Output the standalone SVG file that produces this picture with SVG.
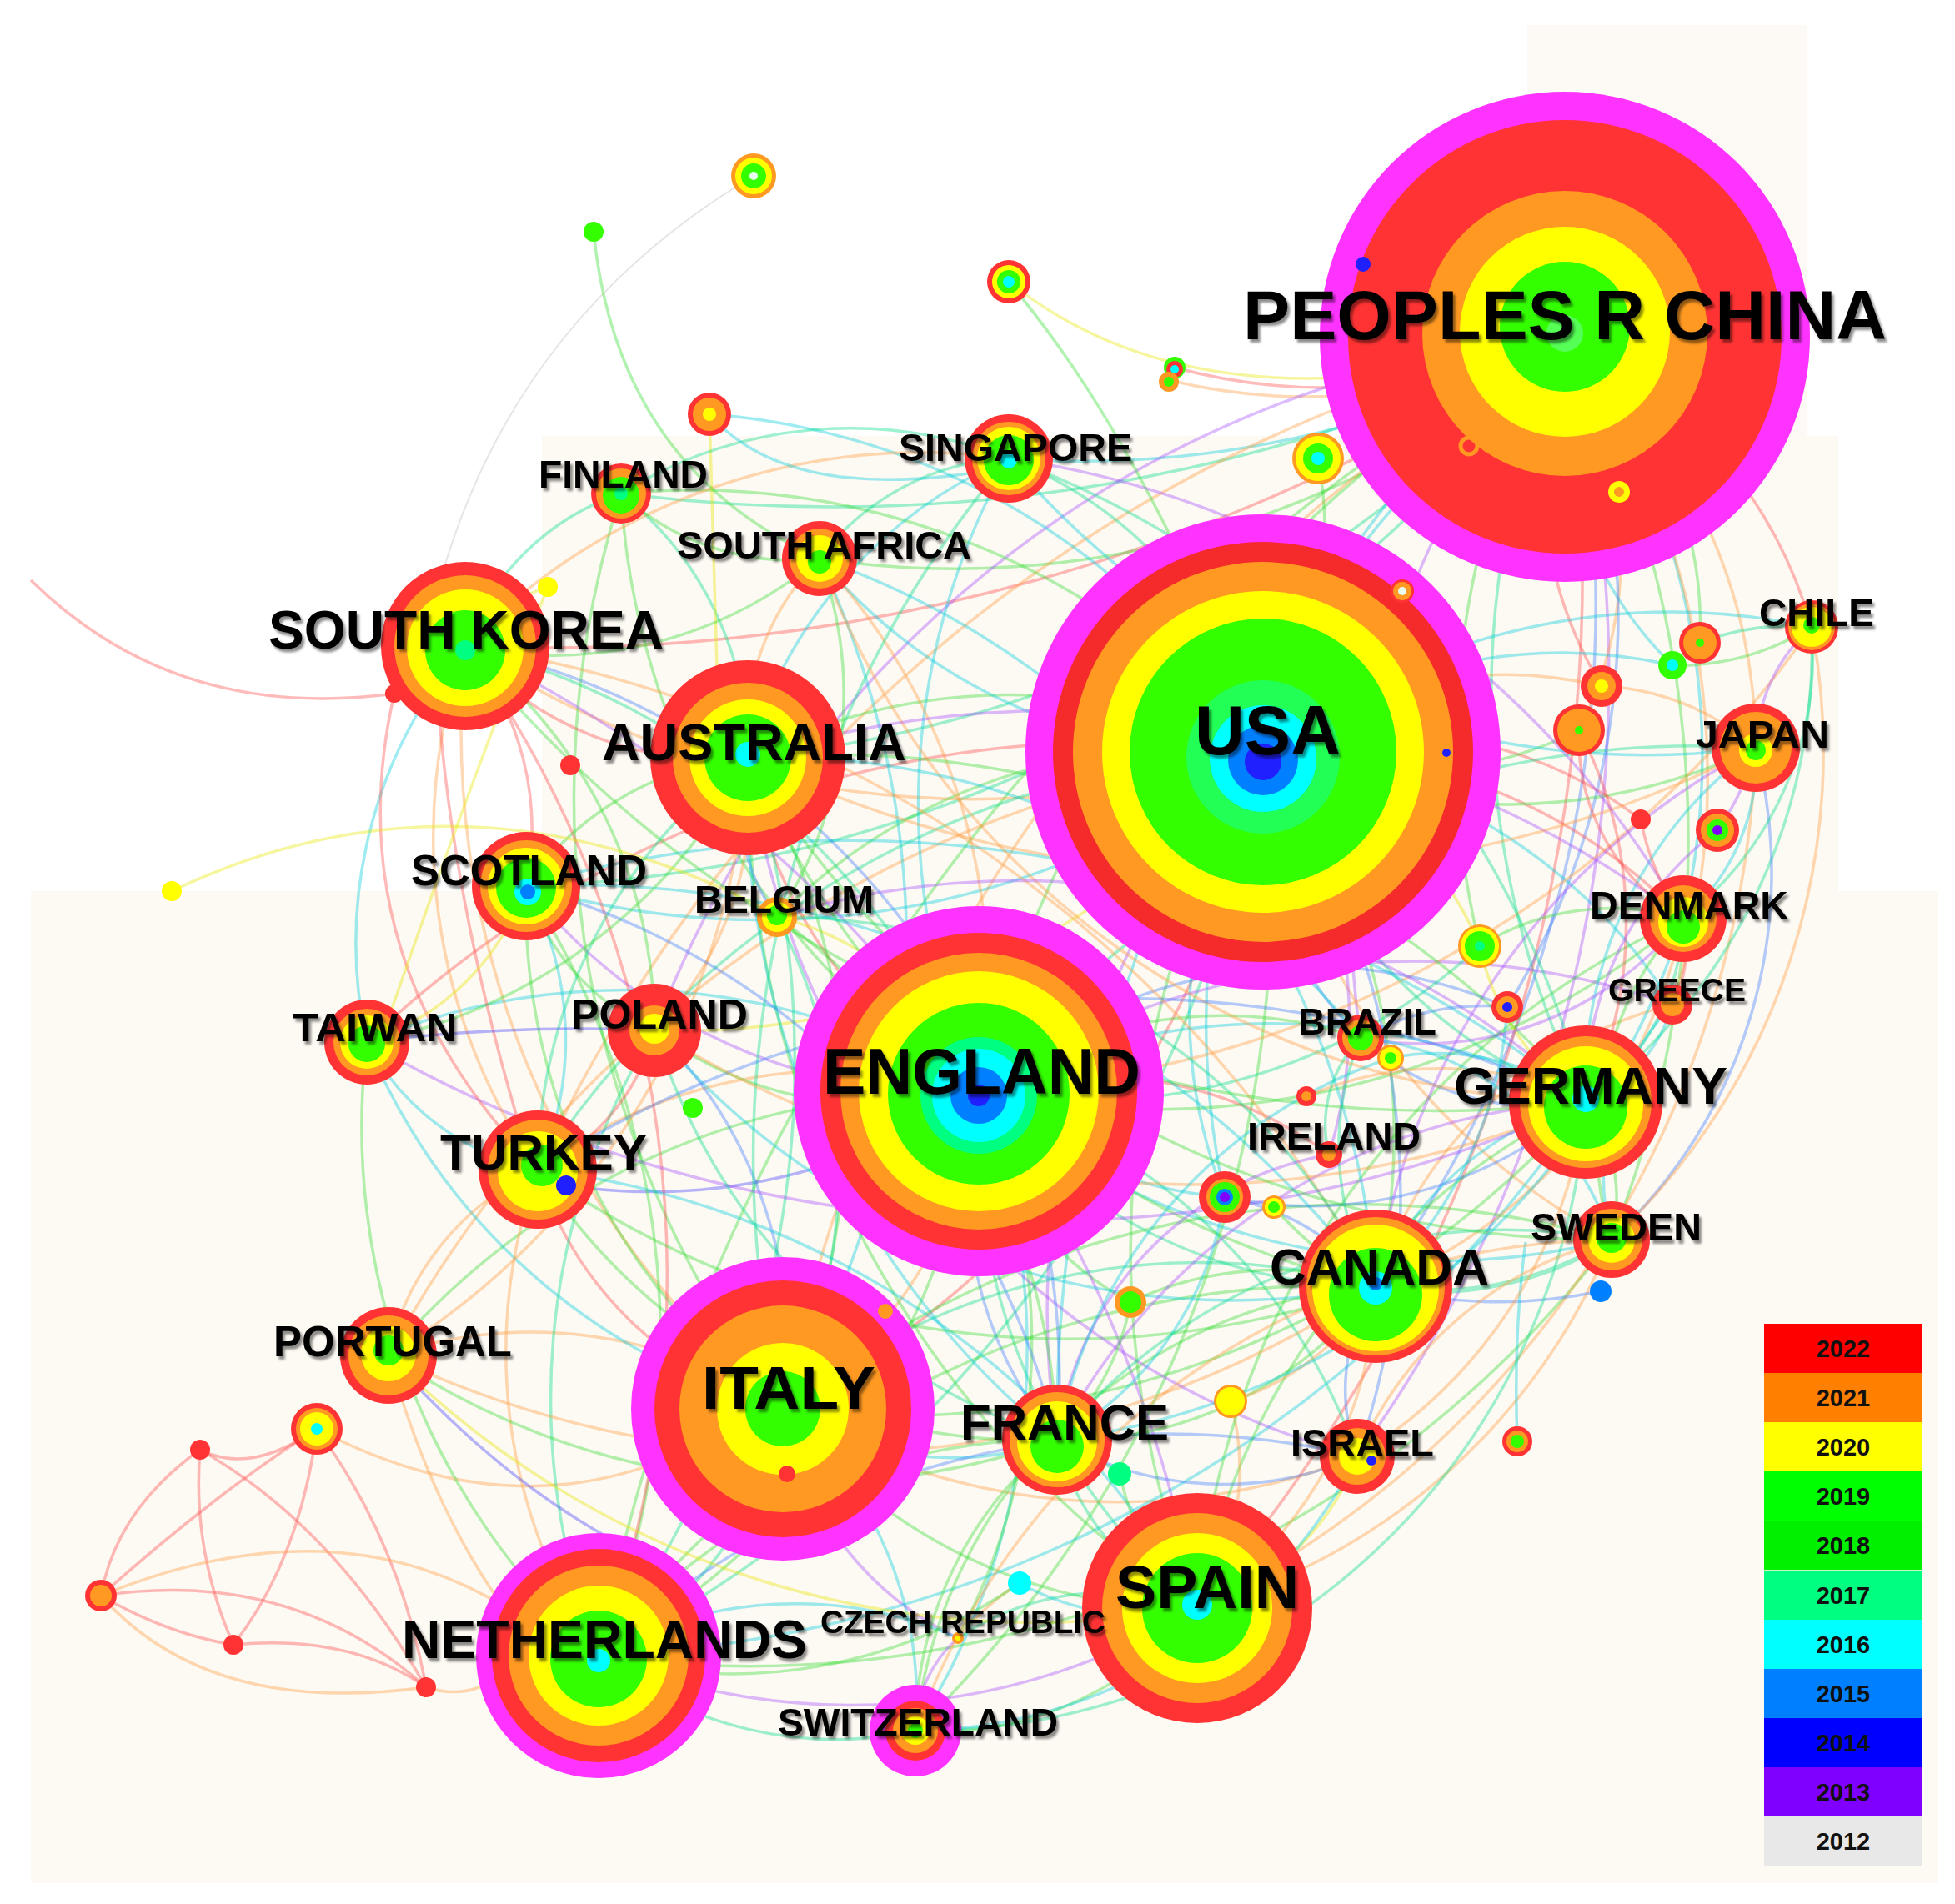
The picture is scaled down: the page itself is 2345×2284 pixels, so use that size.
<svg xmlns="http://www.w3.org/2000/svg" width="2345" height="2284" viewBox="0 0 2345 2284">
<style>
.e{fill:none;stroke-width:3.5;stroke-opacity:.38}
.r{stroke:#ff4a4a}.o{stroke:#ff9b3d}.y{stroke:#e8e800}.g{stroke:#33dd33}.s{stroke:#00dd88}.c{stroke:#00ccdd}.a{stroke:#3a7cff}.b{stroke:#4040ff}.v{stroke:#a64dff}.k{stroke:#bbbbbb}
.MG{fill:#ff33ff}.RD{fill:#ff3333}.OR{fill:#ff9922}.YL{fill:#ffff00}.GN{fill:#33ff00}.SG{fill:#00ff80}.CY{fill:#00ffff}.AZ{fill:#0080ff}.BL{fill:#2020ff}.VI{fill:#8000ff}.WH{fill:#e8fff0}
.lb{font-family:"Liberation Sans",Arial,Helvetica,sans-serif;font-weight:bold;fill:#000}
.lg{font-family:"Liberation Sans",Arial,Helvetica,sans-serif;font-weight:bold;font-size:29px;fill:#111;text-anchor:middle}
</style>
<defs>
<filter id="ds" x="-5%" y="-30%" width="115%" height="170%">
<feGaussianBlur in="SourceAlpha" stdDeviation="1.6"/>
<feOffset dx="3" dy="4" result="o"/>
<feComponentTransfer><feFuncA type="linear" slope="0.45"/></feComponentTransfer>
<feMerge><feMergeNode/><feMergeNode in="SourceGraphic"/></feMerge>
</filter>
</defs>
<rect x="0" y="0" width="2345" height="2284" fill="#ffffff"/>
<rect x="37" y="1069" width="2288" height="1190" fill="#fdf9f3"/>
<rect x="650" y="523" width="1555" height="546" fill="#fdf9f3"/>
<rect x="1832" y="30" width="336" height="493" fill="#fdfaf5"/>

<g id="connectors">
<!-- China -->
<path class="e g" d="M1877 404A1400 1400 0 0 0 1174 1309"/>
<path class="e s" d="M1877 404A1500 1500 0 0 1 897 909"/>
<path class="e r" d="M1877 404A2200 2200 0 0 1 558 775"/>
<path class="e c" d="M1877 404A1200 1200 0 0 1 1210 550"/>
<path class="e g" d="M1877 404A1100 1100 0 0 1 983 670"/>
<path class="e s" d="M1877 404A2000 2000 0 0 1 745 592"/>
<path class="e c" d="M1877 404A850 850 0 0 1 2019 1102"/>
<path class="e o" d="M1877 404A650 650 0 0 1 2106 897"/>
<path class="e r" d="M1877 404A550 550 0 0 1 2173 752"/>
<path class="e s" d="M1877 404A1100 1100 0 0 0 1902 1322"/>
<path class="e a" d="M1877 404A1400 1400 0 0 1 1650 1543"/>
<path class="e v" d="M1877 404A1050 1050 0 0 0 1632 1245"/>
<path class="e g" d="M1877 404A1300 1300 0 0 1 1933 1487"/>
<path class="e o" d="M1877 404A1900 1900 0 0 0 939 1690"/>
<path class="e r" d="M1877 404A1900 1900 0 0 1 1436 1929"/>
<path class="e g" d="M1877 404A2300 2300 0 0 0 718 1986"/>
<path class="e c" d="M1877 404A1700 1700 0 0 0 1268 1727"/>
<path class="e s" d="M1877 404A1600 1600 0 0 1 631 1063"/>
<path class="e o" d="M1877 404A1800 1800 0 0 0 645 1403"/>
<path class="e v" d="M1877 404A1600 1600 0 0 1 1628 1747"/>
<path class="e o" d="M1877 404A900 900 0 0 1 2006 1205"/>
<path class="e r" d="M1877 404A500 500 0 0 0 1921 823"/>
<path class="e o" d="M1877 404A500 500 0 0 1 1894 876"/>
<path class="e g" d="M1877 404A450 450 0 0 1 2039 771"/>
<path class="e c" d="M1877 404A450 450 0 0 0 2006 798"/>
<path class="e y" d="M1210 338Q1450 530 1877 404"/>
<path class="e r" d="M1877 404A700 700 0 0 1 1409 441"/>
<path class="e o" d="M1877 404A700 700 0 0 1 1402 456"/>
<path class="e g" d="M1877 404A1000 1000 0 0 0 1775 1135"/>
<path class="e a" d="M1877 404A900 900 0 0 1 1808 1208"/>
<path class="e c" d="M1877 404A1000 1000 0 0 0 1469 1436"/>
<path class="e v" d="M1877 404A1300 1300 0 0 0 785 1236"/>
<!-- USA -->
<path class="e g" d="M1515 902A700 700 0 0 0 897 909"/>
<path class="e o" d="M1515 902A1100 1100 0 0 1 558 775"/>
<path class="e s" d="M1515 902A500 500 0 0 0 1210 550"/>
<path class="e c" d="M1515 902A650 650 0 0 1 983 670"/>
<path class="e g" d="M1515 902A900 900 0 0 0 745 592"/>
<path class="e r" d="M1515 902A650 650 0 0 1 2019 1102"/>
<path class="e g" d="M1515 902A700 700 0 0 0 2106 897"/>
<path class="e c" d="M1515 902A800 800 0 0 1 2173 752"/>
<path class="e s" d="M1515 902A650 650 0 0 0 1902 1322"/>
<path class="e g" d="M1515 902A750 750 0 0 1 1650 1543"/>
<path class="e a" d="M1515 902A400 400 0 0 0 1632 1245"/>
<path class="e o" d="M1515 902A800 800 0 0 0 1933 1487"/>
<path class="e r" d="M1515 902A1100 1100 0 0 1 939 1690"/>
<path class="e g" d="M1515 902A1200 1200 0 0 0 1436 1929"/>
<path class="e s" d="M1515 902A1500 1500 0 0 1 718 1986"/>
<path class="e v" d="M1515 902A1000 1000 0 0 0 1268 1727"/>
<path class="e c" d="M1515 902A1000 1000 0 0 1 631 1063"/>
<path class="e s" d="M1515 902A1100 1100 0 0 0 645 1403"/>
<path class="e y" d="M1515 902A900 900 0 0 1 785 1236"/>
<path class="e r" d="M1515 902A1300 1300 0 0 0 440 1250"/>
<path class="e a" d="M1515 902A950 950 0 0 1 1628 1747"/>
<path class="e c" d="M1515 902A650 650 0 0 1 2006 1205"/>
<path class="e o" d="M1515 902A1400 1400 0 0 0 466 1626"/>
<path class="e g" d="M1515 902A1400 1400 0 0 1 1098 2076"/>
<path class="e g" d="M1515 902A700 700 0 0 0 932 1100"/>
<path class="e v" d="M1515 902A550 550 0 0 1 1594 1385"/>
<path class="e c" d="M1515 902A600 600 0 0 0 1469 1436"/>
<path class="e y" d="M1515 902A400 400 0 0 1 1775 1135"/>
<path class="e g" d="M1515 902A500 500 0 0 0 1581 550"/>
<path class="e g" d="M1210 338Q1380 540 1515 902"/>
<path class="e c" d="M1515 902A850 850 0 0 0 851 497"/>
<path class="e r" d="M1515 902A500 500 0 0 1 1968 983"/>
<path class="e g" d="M1515 902A500 500 0 0 0 1894 876"/>
<path class="e c" d="M1515 902A600 600 0 0 1 2006 798"/>
<path class="e o" d="M1515 902A500 500 0 0 1 1921 823"/>
<!-- England -->
<path class="e r" d="M1174 1309A550 550 0 0 1 897 909"/>
<path class="e s" d="M1174 1309A900 900 0 0 0 558 775"/>
<path class="e c" d="M1174 1309A850 850 0 0 1 1210 550"/>
<path class="e o" d="M1174 1309A750 750 0 0 0 983 670"/>
<path class="e g" d="M1174 1309A900 900 0 0 1 745 592"/>
<path class="e g" d="M1174 1309A1000 1000 0 0 0 2019 1102"/>
<path class="e s" d="M1174 1309A1100 1100 0 0 1 2106 897"/>
<path class="e c" d="M1174 1309A800 800 0 0 1 1902 1322"/>
<path class="e s" d="M1174 1309A600 600 0 0 0 1650 1543"/>
<path class="e g" d="M1174 1309A520 520 0 0 1 1632 1245"/>
<path class="e c" d="M1174 1309A850 850 0 0 0 1933 1487"/>
<path class="e o" d="M1174 1309A500 500 0 0 1 939 1690"/>
<path class="e s" d="M1174 1309A750 750 0 0 0 1436 1929"/>
<path class="e g" d="M1174 1309A900 900 0 0 1 718 1986"/>
<path class="e a" d="M1174 1309A480 480 0 0 0 1268 1727"/>
<path class="e v" d="M1174 1309A650 650 0 0 1 631 1063"/>
<path class="e o" d="M1174 1309A600 600 0 0 0 645 1403"/>
<path class="e g" d="M1174 1309A450 450 0 0 1 785 1236"/>
<path class="e c" d="M1174 1309A800 800 0 0 0 440 1250"/>
<path class="e s" d="M1174 1309A700 700 0 0 1 1628 1747"/>
<path class="e g" d="M1174 1309A900 900 0 0 0 466 1626"/>
<path class="e c" d="M1174 1309A850 850 0 0 1 1098 2076"/>
<path class="e y" d="M1174 1309A350 350 0 0 0 932 1100"/>
<path class="e r" d="M1174 1309A480 480 0 0 1 1594 1385"/>
<path class="e v" d="M1174 1309A950 950 0 0 1 2006 1205"/>
<path class="e g" d="M1174 1309A750 750 0 0 1 1149 1965"/>
<path class="e o" d="M1174 1309A1300 1300 0 0 0 2173 752"/>
<path class="e g" d="M1174 1309A350 350 0 0 0 1356 1562"/>
<path class="e b" d="M1174 1309A700 700 0 0 1 679 1422"/>
<path class="e c" d="M1174 1309A500 500 0 0 0 1469 1436"/>
<path class="e a" d="M1174 1309A600 600 0 0 1 1808 1208"/>
<path class="e s" d="M1174 1309A700 700 0 0 0 1775 1135"/>
<!-- Italy -->
<path class="e g" d="M939 1690A850 850 0 0 0 897 909"/>
<path class="e o" d="M939 1690A1050 1050 0 0 1 558 775"/>
<path class="e g" d="M939 1690A620 620 0 0 0 1436 1929"/>
<path class="e s" d="M939 1690A420 420 0 0 1 718 1986"/>
<path class="e c" d="M939 1690A380 380 0 0 0 1268 1727"/>
<path class="e s" d="M939 1690A800 800 0 0 1 1650 1543"/>
<path class="e g" d="M939 1690A1100 1100 0 0 0 1902 1322"/>
<path class="e r" d="M939 1690A430 430 0 0 1 645 1403"/>
<path class="e o" d="M939 1690A540 540 0 0 0 466 1626"/>
<path class="e g" d="M939 1690A750 750 0 0 1 631 1063"/>
<path class="e a" d="M939 1690A530 530 0 0 0 785 1236"/>
<path class="e c" d="M939 1690A460 460 0 0 1 1098 2076"/>
<path class="e o" d="M939 1690A780 780 0 0 0 1628 1747"/>
<path class="e g" d="M939 1690A1100 1100 0 0 1 1933 1487"/>
<path class="e v" d="M939 1690A380 380 0 0 0 1149 1965"/>
<path class="e s" d="M939 1690A650 650 0 0 0 932 1100"/>
<path class="e c" d="M939 1690A750 750 0 0 1 440 1250"/>
<path class="e o" d="M380 1714Q600 1830 800 1750"/>
<path class="e g" d="M939 1690A1200 1200 0 0 1 745 592"/>
<path class="e c" d="M939 1690A1100 1100 0 0 0 983 670"/>
<path class="e s" d="M939 1690A1300 1300 0 0 1 1210 550"/>
<!-- Netherlands -->
<path class="e v" d="M718 1986A800 800 0 0 0 1436 1929"/>
<path class="e g" d="M718 1986A700 700 0 0 1 1268 1727"/>
<path class="e s" d="M718 1986A1200 1200 0 0 0 897 909"/>
<path class="e g" d="M718 1986A1100 1100 0 0 1 1650 1543"/>
<path class="e c" d="M718 1986A1500 1500 0 0 0 1902 1322"/>
<path class="e o" d="M718 1986A650 650 0 0 1 645 1403"/>
<path class="e g" d="M718 1986A1000 1000 0 0 0 631 1063"/>
<path class="e s" d="M718 1986A850 850 0 0 1 785 1236"/>
<path class="e s" d="M718 1986A450 450 0 0 0 1098 2076"/>
<path class="e c" d="M718 1986A480 480 0 0 1 1149 1965"/>
<path class="e o" d="M466 1626Q520 1820 620 1950"/>
<path class="e g" d="M718 1986A850 850 0 0 1 440 1250"/>
<path class="e r" d="M718 1986A1300 1300 0 0 0 558 775"/>
<path class="e b" d="M466 1626Q620 1800 800 1880"/>
<path class="e a" d="M718 1986A1000 1000 0 0 1 1628 1747"/>
<path class="e g" d="M718 1986A1300 1300 0 0 0 1933 1487"/>
<!-- Spain -->
<path class="e s" d="M1436 1929A300 300 0 0 1 1268 1727"/>
<path class="e o" d="M1436 1929A480 480 0 0 0 1650 1543"/>
<path class="e g" d="M1436 1929A850 850 0 0 1 1902 1322"/>
<path class="e y" d="M1436 1929A300 300 0 0 0 1628 1747"/>
<path class="e g" d="M1436 1929A400 400 0 0 1 1098 2076"/>
<path class="e s" d="M1436 1929A320 320 0 0 0 1149 1965"/>
<path class="e o" d="M1436 1929A750 750 0 0 0 1933 1487"/>
<path class="e g" d="M1436 1929A1200 1200 0 0 1 897 909"/>
<path class="e c" d="M1436 1929A1050 1050 0 0 0 645 1403"/>
<path class="e y" d="M1436 1929A1100 1100 0 0 1 466 1626"/>
<path class="e v" d="M1436 1929A1600 1600 0 0 0 558 775"/>
<path class="e g" d="M1436 1929A300 300 0 0 1 1343 1768"/>
<path class="e o" d="M1436 1929A300 300 0 0 0 1476 1681"/>
<path class="e c" d="M1436 1929A300 300 0 0 1 1223 1899"/>
<path class="e o" d="M1436 1929A1200 1200 0 0 0 2106 897"/>
<path class="e g" d="M1436 1929A1000 1000 0 0 1 2019 1102"/>
<!-- Canada -->
<path class="e c" d="M1650 1543A380 380 0 0 1 1902 1322"/>
<path class="e s" style="stroke-width:6" d="M1650 1543A400 400 0 0 0 1933 1487"/>
<path class="e g" d="M1650 1543A460 460 0 0 1 1268 1727"/>
<path class="e a" d="M1650 1543A230 230 0 0 0 1628 1747"/>
<path class="e g" d="M1650 1543A1080 1080 0 0 1 897 909"/>
<path class="e o" d="M1650 1543A1500 1500 0 0 0 558 775"/>
<path class="e v" d="M1650 1543A860 860 0 0 1 2106 897"/>
<path class="e o" d="M1650 1543A600 600 0 0 0 2019 1102"/>
<path class="e s" d="M1650 1543A340 340 0 0 1 1632 1245"/>
<path class="e a" d="M1650 1543A600 600 0 0 0 1920 1549"/>
<path class="e g" d="M1650 1543A1100 1100 0 0 1 645 1403"/>
<path class="e c" d="M1650 1543A1200 1200 0 0 0 631 1063"/>
<path class="e c" d="M1820 1729Q1815 1600 1830 1490"/>
<path class="e o" d="M1650 1543A300 300 0 0 1 1476 1681"/>
<path class="e g" d="M1650 1543A400 400 0 0 0 1356 1562"/>
<path class="e c" d="M1650 1543A900 900 0 0 1 785 1236"/>
<path class="e s" d="M1650 1543A800 800 0 0 0 932 1100"/>
<path class="e o" d="M1650 1543A1200 1200 0 0 1 466 1626"/>
<path class="e g" d="M1650 1543A600 600 0 0 0 1098 2076"/>
<path class="e o" d="M1650 1543A500 500 0 0 1 2006 1205"/>
<path class="e a" d="M1650 1543A300 300 0 0 0 1469 1436"/>
<path class="e c" d="M1650 1543A1000 1000 0 0 0 983 670"/>
<!-- Germany -->
<path class="e g" d="M1902 1322A200 200 0 0 1 1933 1487"/>
<path class="e s" d="M1902 1322A280 280 0 0 0 2019 1102"/>
<path class="e c" d="M1902 1322A500 500 0 0 1 2106 897"/>
<path class="e c" d="M1902 1322A180 180 0 0 0 2006 1205"/>
<path class="e a" d="M1902 1322A320 320 0 0 1 1632 1245"/>
<path class="e v" d="M1902 1322A750 750 0 0 0 1268 1727"/>
<path class="e o" d="M1902 1322A580 580 0 0 1 1628 1747"/>
<path class="e g" d="M1902 1322A1200 1200 0 0 0 897 909"/>
<path class="e g" d="M1902 1322A1500 1500 0 0 1 558 775"/>
<path class="e s" d="M1902 1322A680 680 0 0 0 2173 752"/>
<path class="e v" d="M1902 1322A1600 1600 0 0 1 440 1250"/>
<path class="e c" d="M1902 1322A1400 1400 0 0 0 631 1063"/>
<path class="e r" d="M1902 1322A500 500 0 0 0 1894 876"/>
<path class="e y" d="M1902 1322A300 300 0 0 1 1775 1135"/>
<path class="e s" d="M1902 1322A1100 1100 0 0 0 1210 550"/>
<path class="e o" d="M1902 1322A1000 1000 0 0 1 983 670"/>
<path class="e a" d="M1902 1322A1300 1300 0 0 0 645 1403"/>
<path class="e o" d="M1902 1322A1200 1200 0 0 1 785 1236"/>
<path class="e v" d="M1902 1322A1000 1000 0 0 0 932 1100"/>
<path class="e s" d="M1902 1322A800 800 0 0 1 1098 2076"/>
<path class="e a" d="M1902 1322A500 500 0 0 1 1469 1436"/>
<path class="e c" d="M1902 1322A300 300 0 0 0 1668 1269"/>
<path class="e v" d="M1902 1322A400 400 0 0 1 2060 996"/>
<!-- Australia -->
<path class="e r" d="M897 909A400 400 0 0 1 558 775"/>
<path class="e g" d="M897 909A360 360 0 0 0 631 1063"/>
<path class="e o" d="M897 909A400 400 0 0 1 785 1236"/>
<path class="e s" d="M897 909A620 620 0 0 0 645 1403"/>
<path class="e o" d="M897 909A300 300 0 0 1 983 670"/>
<path class="e s" d="M897 909A400 400 0 0 0 745 592"/>
<path class="e c" d="M897 909A550 550 0 0 1 1210 550"/>
<path class="e a" d="M897 909A220 220 0 0 0 932 1100"/>
<path class="e g" d="M897 909A650 650 0 0 1 440 1250"/>
<path class="e c" d="M897 909A1000 1000 0 0 0 1268 1727"/>
<path class="e v" d="M897 909A1250 1250 0 0 1 2019 1102"/>
<path class="e o" d="M897 909A1350 1350 0 0 0 2106 897"/>
<path class="e o" d="M897 909A900 900 0 0 1 466 1626"/>
<path class="e y" d="M851 497Q855 650 860 800"/>
<path class="e g" d="M897 909A1200 1200 0 0 0 1933 1487"/>
<path class="e c" d="M897 909A900 900 0 0 1 1632 1245"/>
<path class="e v" d="M897 909A1000 1000 0 0 0 1628 1747"/>
<!-- South Korea -->
<path class="e r" d="M558 775A340 340 0 0 1 631 1063"/>
<path class="e c" d="M558 775A550 550 0 0 0 440 1250"/>
<path class="e s" d="M558 775A300 300 0 0 1 745 592"/>
<path class="e g" d="M558 775A500 500 0 0 0 983 670"/>
<path class="e o" d="M558 775A760 760 0 0 1 1210 550"/>
<path class="e o" d="M558 775A700 700 0 0 0 645 1403"/>
<path class="e g" d="M558 775A580 580 0 0 1 785 1236"/>
<path class="e y" d="M558 775A200 200 0 0 1 657 704"/>
<path class="e r" d="M37 696Q211 867 473 832"/>
<path class="e r" d="M473 832Q400 1150 645 1403"/>
<path class="e r" d="M520 700Q520 1000 620 1340"/>
<path class="e k" style="stroke-width:2" d="M904 211Q620 380 530 690"/>
<path class="e y" d="M206 1069Q560 900 932 1098"/>
<path class="e y" d="M657 704Q560 950 470 1210"/>
<path class="e a" d="M558 775A900 900 0 0 1 1268 1727"/>
<!-- others -->
<path class="e y" d="M631 1063A300 300 0 0 1 440 1250"/>
<path class="e g" d="M631 1063A280 280 0 0 0 785 1236"/>
<path class="e c" d="M631 1063A380 380 0 0 1 645 1403"/>
<path class="e c" d="M440 1250A300 300 0 0 0 645 1403"/>
<path class="e b" d="M440 1250A2000 2000 0 0 1 785 1236"/>
<path class="e o" d="M466 1626A320 320 0 0 1 645 1403"/>
<path class="e g" d="M745 592A300 300 0 0 0 983 670"/>
<path class="e s" d="M745 592A520 520 0 0 1 1210 550"/>
<path class="e s" d="M1210 550A300 300 0 0 0 983 670"/>
<path class="e g" d="M983 670A480 480 0 0 1 932 1100"/>
<path class="e c" d="M2019 1102A250 250 0 0 0 2106 897"/>
<path class="e r" d="M2019 1102A150 150 0 0 1 2006 1205"/>
<path class="e v" d="M2106 897A200 200 0 0 1 2173 752"/>
<path class="e o" d="M1933 1487A450 450 0 0 0 1628 1747"/>
<path class="e a" d="M1628 1747A400 400 0 0 1 1268 1727"/>
<path class="e g" d="M1268 1727A450 450 0 0 0 1098 2076"/>
<path class="e v" d="M1098 2076A150 150 0 0 1 1149 1965"/>
<path class="e s" d="M785 1236A750 750 0 0 0 1268 1727"/>
<path class="e r" d="M785 1236A250 250 0 0 1 645 1403"/>
<path class="e g" d="M932 1100A800 800 0 0 1 1268 1727"/>
<path class="e v" d="M1210 550A1100 1100 0 0 1 2019 1102"/>
<path class="e c" d="M1210 550A1000 1000 0 0 0 2106 897"/>
<path class="e c" d="M851 497Q950 610 1210 560"/>
<path class="e g" d="M712 278Q740 560 983 670"/>
<path class="e g" d="M2006 798A300 300 0 0 0 2173 752"/>
<path class="e s" d="M2039 771A300 300 0 0 1 2173 752"/>
<path class="e v" d="M2060 996A300 300 0 0 0 2106 897"/>
<path class="e o" d="M1921 823A300 300 0 0 1 2106 897"/>
<path class="e a" d="M1808 1208A300 300 0 0 0 1632 1245"/>
<path class="e c" d="M1808 1208A500 500 0 0 1 1650 1543"/>
<path class="e r" d="M1968 983A300 300 0 0 0 2019 1102"/>
<path class="e o" d="M1223 1899A300 300 0 0 0 1149 1965"/>
<path class="e g" d="M1223 1899A600 600 0 0 1 718 1986"/>
<path class="e s" d="M1343 1768A300 300 0 0 0 1268 1727"/>
<path class="e g" d="M1356 1562A300 300 0 0 1 1268 1727"/>
<path class="e c" d="M1469 1436A400 400 0 0 1 1268 1727"/>
<path class="e g" d="M1528 1448A400 400 0 0 0 1650 1543"/>
<path class="e v" d="M1594 1385A400 400 0 0 0 1268 1727"/>
<path class="e o" d="M1567 1315A400 400 0 0 1 1902 1322"/>
<path class="e a" d="M631 1063A900 900 0 0 1 1268 1727"/>
<path class="e g" d="M645 1403A700 700 0 0 0 1268 1727"/>
<path class="e g" d="M466 1626A900 900 0 0 0 1268 1727"/>
<path class="e s" d="M1268 1727A700 700 0 0 1 1933 1487"/>
<path class="e c" d="M1268 1727A900 900 0 0 0 2019 1102"/>
<path class="e c" d="M1098 2076A600 600 0 0 0 1628 1747"/>
<path class="e o" d="M1098 2076A900 900 0 0 1 1933 1487"/>
<path class="e a" d="M2106 897A600 600 0 0 1 1933 1487"/>
<path class="e g" d="M2019 1102A400 400 0 0 0 1933 1487"/>
<path class="e v" d="M2019 1102A400 400 0 0 1 1632 1245"/>
<path class="e s" d="M1632 1245A150 150 0 0 0 1594 1385"/>
<path class="e c" d="M1632 1245A350 350 0 0 1 1933 1487"/>
<path class="e c" d="M2006 1205A300 300 0 0 0 1933 1487"/>
<path class="e s" d="M2173 752A400 400 0 0 1 2019 1102"/>
<path class="e o" d="M2173 752A800 800 0 0 1 1933 1487"/>
<path class="e r" d="M1894 876A250 250 0 0 0 2019 1102"/>
<path class="e g" d="M1775 1135A300 300 0 0 1 2019 1102"/>
<path class="e c" d="M1668 1269A600 600 0 0 0 1268 1727"/>
<!-- left cluster -->
<path class="e r" d="M240 1739Q300 1770 380 1714"/>
<path class="e r" d="M240 1739Q140 1810 121 1914"/>
<path class="e r" d="M240 1739Q230 1860 280 1973"/>
<path class="e r" d="M240 1739Q400 1830 511 2024"/>
<path class="e r" d="M380 1714Q260 1790 121 1914"/>
<path class="e r" d="M380 1714Q360 1870 280 1973"/>
<path class="e r" d="M380 1714Q480 1850 511 2024"/>
<path class="e r" d="M121 1914Q200 1960 280 1973"/>
<path class="e r" d="M121 1914Q350 1880 511 2024"/>
<path class="e o" d="M121 1914Q250 2060 511 2024"/>
<path class="e r" d="M280 1973Q420 1960 511 2024"/>
<path class="e o" d="M121 1914Q400 1800 610 1930"/>
<path class="e o" d="M511 2024Q560 2040 600 2010"/>
</g>

<g id="n-china">
<circle class="MG" cx="1877" cy="404" r="294"/>
<circle class="RD" cx="1877" cy="404" r="260"/>
<circle class="OR" cx="1877" cy="400" r="171"/>
<circle class="YL" cx="1877" cy="398" r="126"/>
<circle class="GN" cx="1877" cy="392" r="78"/>
<circle fill="#55ff55" cx="1877" cy="400" r="22"/>
</g>
<g id="n-usa">
<circle class="MG" cx="1515" cy="902" r="285"/>
<circle fill="#f52b2b" cx="1515" cy="902" r="252"/>
<circle class="OR" cx="1515" cy="902" r="228"/>
<circle class="YL" cx="1515" cy="902" r="193"/>
<circle class="GN" cx="1515" cy="902" r="160"/>
<circle fill="#22ff55" cx="1515" cy="908" r="92"/>
<circle class="CY" cx="1515" cy="910" r="64"/>
<circle class="AZ" cx="1515" cy="912" r="42"/>
<circle class="BL" cx="1515" cy="914" r="22"/>
</g>
<g id="n-england">
<circle class="MG" cx="1174" cy="1309" r="222"/>
<circle class="RD" cx="1174" cy="1309" r="190"/>
<circle class="OR" cx="1174" cy="1309" r="166"/>
<circle class="YL" cx="1174" cy="1309" r="144"/>
<circle class="GN" cx="1174" cy="1312" r="109"/>
<circle class="SG" cx="1174" cy="1314" r="70"/>
<circle class="CY" cx="1174" cy="1314" r="56"/>
<circle class="AZ" cx="1174" cy="1314" r="34"/>
<circle class="BL" cx="1174" cy="1314" r="13"/>
</g>
<g id="n-italy">
<circle class="MG" cx="939" cy="1690" r="182"/>
<circle class="RD" cx="939" cy="1690" r="154"/>
<circle class="OR" cx="939" cy="1690" r="124"/>
<circle class="YL" cx="939" cy="1690" r="79"/>
<circle class="GN" cx="939" cy="1690" r="45"/>
<circle class="RD" cx="944" cy="1768" r="10"/>
<circle class="OR" cx="1062" cy="1573" r="9"/>
</g>
<g id="n-netherlands">
<circle class="MG" cx="718" cy="1986" r="147"/>
<circle class="RD" cx="718" cy="1986" r="128"/>
<circle class="OR" cx="718" cy="1986" r="108"/>
<circle class="YL" cx="718" cy="1986" r="84"/>
<circle class="GN" cx="718" cy="1990" r="58"/>
<circle class="CY" cx="718" cy="1992" r="14"/>
</g>
<g id="n-spain">
<circle class="RD" cx="1436" cy="1929" r="138"/>
<circle class="OR" cx="1436" cy="1929" r="114"/>
<circle class="YL" cx="1436" cy="1929" r="90"/>
<circle class="GN" cx="1436" cy="1929" r="66"/>
<circle class="CY" cx="1436" cy="1925" r="18"/>
</g>
<g id="n-switzerland">
<circle class="MG" cx="1098" cy="2076" r="55"/>
<circle class="RD" cx="1098" cy="2076" r="36"/>
<circle class="OR" cx="1098" cy="2076" r="27"/>
<circle class="YL" cx="1098" cy="2076" r="17"/>
<circle class="GN" cx="1098" cy="2076" r="9"/>
</g>
<g id="n-canada">
<circle class="RD" cx="1650" cy="1543" r="92"/>
<circle class="OR" cx="1650" cy="1543" r="83"/>
<circle class="YL" cx="1650" cy="1545" r="76"/>
<circle class="GN" cx="1650" cy="1553" r="56"/>
<circle class="CY" cx="1650" cy="1545" r="20"/>
<circle class="AZ" cx="1650" cy="1540" r="8"/>
</g>
<g id="n-germany">
<circle class="RD" cx="1902" cy="1322" r="92"/>
<circle class="OR" cx="1902" cy="1322" r="79"/>
<circle class="YL" cx="1902" cy="1324" r="69"/>
<circle class="GN" cx="1902" cy="1328" r="50"/>
<circle class="CY" cx="1902" cy="1318" r="16"/>
</g>
<g id="n-australia">
<circle class="RD" cx="897" cy="909" r="117"/>
<circle class="OR" cx="897" cy="909" r="90"/>
<circle class="YL" cx="897" cy="909" r="70"/>
<circle class="GN" cx="897" cy="909" r="52"/>
<circle class="CY" cx="897" cy="905" r="15"/>
</g>
<g id="n-south-korea">
<circle class="RD" cx="558" cy="775" r="101"/>
<circle class="OR" cx="558" cy="775" r="85"/>
<circle class="YL" cx="558" cy="777" r="70"/>
<circle class="GN" cx="558" cy="780" r="48"/>
<circle class="SG" cx="558" cy="780" r="12"/>
</g>
<g id="n-france">
<circle class="RD" cx="1268" cy="1727" r="66"/>
<circle class="OR" cx="1268" cy="1727" r="57"/>
<circle class="YL" cx="1268" cy="1729" r="48"/>
<circle class="GN" cx="1268" cy="1735" r="32"/>
</g>
<g id="n-turkey">
<circle class="RD" cx="645" cy="1403" r="71"/>
<circle class="OR" cx="645" cy="1403" r="60"/>
<circle class="YL" cx="645" cy="1405" r="48"/>
<circle class="GN" cx="650" cy="1398" r="25"/>
<circle class="BL" cx="679" cy="1422" r="12"/>
</g>
<g id="n-portugal">
<circle class="RD" cx="466" cy="1626" r="58"/>
<circle class="OR" cx="466" cy="1626" r="48"/>
<circle class="YL" cx="466" cy="1624" r="33"/>
<circle class="GN" cx="466" cy="1620" r="18"/>
</g>
<g id="n-scotland">
<circle class="RD" cx="631" cy="1063" r="65"/>
<circle class="OR" cx="631" cy="1063" r="55"/>
<circle class="YL" cx="631" cy="1063" r="46"/>
<circle class="GN" cx="631" cy="1065" r="36"/>
<circle class="CY" cx="633" cy="1070" r="16"/>
<circle class="AZ" cx="633" cy="1070" r="9"/>
</g>
<g id="n-poland">
<circle class="RD" cx="785" cy="1236" r="56"/>
<circle class="OR" cx="785" cy="1236" r="30"/>
<circle class="YL" cx="785" cy="1234" r="18"/>
</g>
<g id="n-taiwan">
<circle class="RD" cx="440" cy="1250" r="51"/>
<circle class="OR" cx="440" cy="1250" r="40"/>
<circle class="YL" cx="440" cy="1250" r="32"/>
<circle class="GN" cx="440" cy="1252" r="22"/>
</g>
<g id="n-finland">
<circle class="RD" cx="745" cy="592" r="36"/>
<circle class="OR" cx="745" cy="592" r="30"/>
<circle class="GN" cx="745" cy="594" r="22"/>
<circle class="SG" cx="745" cy="592" r="8"/>
</g>
<g id="n-singapore">
<circle class="RD" cx="1210" cy="550" r="53"/>
<circle class="OR" cx="1210" cy="550" r="44"/>
<circle class="YL" cx="1210" cy="550" r="38"/>
<circle class="GN" cx="1210" cy="552" r="30"/>
<circle class="CY" cx="1210" cy="552" r="10"/>
</g>
<g id="n-south-africa">
<circle class="RD" cx="983" cy="670" r="45"/>
<circle class="OR" cx="983" cy="670" r="36"/>
<circle class="YL" cx="983" cy="670" r="28"/>
<circle class="GN" cx="983" cy="674" r="14"/>
</g>
<g id="n-belgium">
<circle class="OR" cx="932" cy="1100" r="24"/>
<circle class="YL" cx="932" cy="1100" r="18"/>
<circle class="GN" cx="932" cy="1098" r="12"/>
</g>
<g id="n-denmark">
<circle class="RD" cx="2019" cy="1102" r="52"/>
<circle class="OR" cx="2019" cy="1102" r="40"/>
<circle class="YL" cx="2019" cy="1106" r="30"/>
<circle class="GN" cx="2019" cy="1112" r="20"/>
</g>
<g id="n-greece">
<circle class="RD" cx="2006" cy="1205" r="24"/>
<circle class="OR" cx="2006" cy="1205" r="14"/>
</g>
<g id="n-brazil">
<circle class="RD" cx="1632" cy="1245" r="28"/>
<circle class="OR" cx="1632" cy="1245" r="22"/>
<circle class="GN" cx="1632" cy="1245" r="15"/>
</g>
<g id="n-ireland">
<circle class="RD" cx="1594" cy="1385" r="16"/>
<circle class="OR" cx="1594" cy="1385" r="8"/>
</g>
<g id="n-sweden">
<circle class="RD" cx="1933" cy="1487" r="46"/>
<circle class="OR" cx="1933" cy="1487" r="37"/>
<circle class="YL" cx="1933" cy="1487" r="28"/>
<circle class="GN" cx="1933" cy="1485" r="18"/>
</g>
<g id="n-israel">
<circle class="RD" cx="1628" cy="1747" r="45"/>
<circle class="OR" cx="1628" cy="1747" r="34"/>
<circle class="YL" cx="1628" cy="1747" r="22"/>
<circle class="BL" cx="1645" cy="1752" r="6"/>
</g>
<g id="n-japan">
<circle class="RD" cx="2106" cy="897" r="53"/>
<circle class="OR" cx="2106" cy="897" r="43"/>
<circle class="YL" cx="2106" cy="900" r="20"/>
<circle class="GN" cx="2106" cy="900" r="12"/>
</g>
<g id="n-chile">
<circle class="RD" cx="2173" cy="752" r="32"/>
<circle class="OR" cx="2173" cy="752" r="28"/>
<circle class="YL" cx="2173" cy="752" r="24"/>
<circle class="GN" cx="2173" cy="750" r="10"/>
</g>
<g id="n-czech-republic">
<circle class="OR" cx="1149" cy="1965" r="7"/>
<circle class="YL" cx="1149" cy="1965" r="3"/>
</g>

<g id="n-small">
<circle class="OR" cx="904" cy="211" r="27"/><circle class="YL" cx="904" cy="211" r="22"/><circle class="GN" cx="904" cy="211" r="15"/><circle class="WH" cx="904" cy="211" r="5"/>
<circle class="GN" cx="712" cy="278" r="12"/>
<circle class="RD" cx="1210" cy="338" r="26"/><circle class="YL" cx="1210" cy="338" r="20"/><circle class="GN" cx="1210" cy="338" r="14"/><circle class="CY" cx="1210" cy="338" r="7"/>
<circle class="GN" cx="1409" cy="441" r="13"/><circle class="RD" cx="1409" cy="443" r="10"/><circle class="CY" cx="1409" cy="443" r="5"/>
<circle class="OR" cx="1402" cy="458" r="12"/><circle class="GN" cx="1402" cy="458" r="6"/>
<circle class="RD" cx="851" cy="497" r="26"/><circle class="OR" cx="851" cy="497" r="20"/><circle class="YL" cx="851" cy="497" r="8"/>
<circle class="OR" cx="1581" cy="550" r="31"/><circle class="YL" cx="1581" cy="550" r="27"/><circle class="GN" cx="1581" cy="550" r="18"/><circle class="CY" cx="1581" cy="550" r="8"/>
<circle class="YL" cx="657" cy="704" r="12"/>
<circle class="RD" cx="473" cy="832" r="11"/>
<circle class="RD" cx="684" cy="918" r="12"/>
<circle class="YL" cx="206" cy="1069" r="12"/>
<circle class="RD" cx="1682" cy="709" r="14"/><circle class="OR" cx="1682" cy="709" r="11"/><circle class="WH" cx="1682" cy="709" r="5"/>
<circle class="BL" cx="1735" cy="903" r="5"/>
<circle class="RD" cx="1921" cy="823" r="25"/><circle class="OR" cx="1921" cy="823" r="17"/><circle class="YL" cx="1921" cy="823" r="8"/>
<circle class="RD" cx="1894" cy="876" r="31"/><circle class="OR" cx="1894" cy="876" r="26"/><circle class="GN" cx="1894" cy="876" r="5"/>
<circle class="GN" cx="2006" cy="798" r="17"/><circle class="CY" cx="2006" cy="798" r="7"/>
<circle class="RD" cx="2039" cy="771" r="25"/><circle class="OR" cx="2039" cy="771" r="20"/><circle class="GN" cx="2039" cy="771" r="5"/>
<circle class="RD" cx="1968" cy="983" r="12"/>
<circle class="RD" cx="2060" cy="996" r="26"/><circle class="OR" cx="2060" cy="996" r="20"/><circle class="GN" cx="2060" cy="996" r="13"/><circle class="VI" cx="2060" cy="996" r="6"/>
<circle class="OR" cx="1775" cy="1135" r="26"/><circle class="YL" cx="1775" cy="1135" r="23"/><circle class="GN" cx="1775" cy="1135" r="18"/><circle class="SG" cx="1775" cy="1135" r="6"/>
<circle class="RD" cx="1808" cy="1208" r="19"/><circle class="OR" cx="1808" cy="1208" r="13"/><circle class="BL" cx="1808" cy="1208" r="6"/>
<circle class="OR" cx="1668" cy="1269" r="16"/><circle class="YL" cx="1668" cy="1269" r="13"/><circle class="GN" cx="1668" cy="1269" r="7"/>
<circle class="RD" cx="1567" cy="1315" r="12"/><circle class="OR" cx="1567" cy="1315" r="6"/>
<circle class="RD" cx="1469" cy="1436" r="31"/><circle class="OR" cx="1469" cy="1436" r="22"/><circle class="GN" cx="1469" cy="1436" r="18"/><circle class="AZ" cx="1469" cy="1436" r="10"/><circle class="VI" cx="1469" cy="1436" r="6"/>
<circle class="OR" cx="1528" cy="1448" r="14"/><circle class="YL" cx="1528" cy="1448" r="11"/><circle class="GN" cx="1528" cy="1448" r="7"/>
<circle class="GN" cx="831" cy="1329" r="12"/>
<circle class="OR" cx="1356" cy="1562" r="19"/><circle class="GN" cx="1356" cy="1562" r="13"/>
<circle class="OR" cx="1476" cy="1681" r="20"/><circle class="YL" cx="1476" cy="1681" r="17"/>
<circle class="SG" cx="1343" cy="1768" r="14"/>
<circle class="RD" cx="1820" cy="1729" r="18"/><circle class="OR" cx="1820" cy="1729" r="13"/><circle class="GN" cx="1820" cy="1729" r="8"/>
<circle class="AZ" cx="1920" cy="1549" r="13"/>
<circle class="CY" cx="1223" cy="1899" r="14"/>
<circle class="RD" cx="380" cy="1714" r="31"/><circle class="OR" cx="380" cy="1714" r="25"/><circle class="YL" cx="380" cy="1714" r="20"/><circle class="CY" cx="380" cy="1714" r="7"/>
<circle class="RD" cx="240" cy="1739" r="12"/>
<circle class="RD" cx="121" cy="1914" r="19"/><circle class="OR" cx="121" cy="1914" r="13"/>
<circle class="RD" cx="280" cy="1973" r="12"/>
<circle class="RD" cx="511" cy="2024" r="12"/>
<circle class="BL" cx="1635" cy="317" r="9"/>
<circle fill="none" stroke="#ff9922" stroke-width="5" cx="1762" cy="535" r="10"/>
<circle class="YL" cx="1942" cy="590" r="13"/><circle class="OR" cx="1942" cy="590" r="6"/>
</g>

<g id="labels" filter="url(#ds)">
<text class="lb" x="1491" y="407" font-size="84" textLength="772" lengthAdjust="spacingAndGlyphs">PEOPLES R CHINA</text>
<text class="lb" x="1433" y="905" font-size="84" textLength="175" lengthAdjust="spacingAndGlyphs">USA</text>
<text class="lb" x="987" y="1312" font-size="78" textLength="381" lengthAdjust="spacingAndGlyphs">ENGLAND</text>
<text class="lb" x="842" y="1690" font-size="72" textLength="208" lengthAdjust="spacingAndGlyphs">ITALY</text>
<text class="lb" x="482" y="1989" font-size="64" textLength="486" lengthAdjust="spacingAndGlyphs">NETHERLANDS</text>
<text class="lb" x="1338" y="1929" font-size="72" textLength="220" lengthAdjust="spacingAndGlyphs">SPAIN</text>
<text class="lb" x="322" y="778" font-size="64" textLength="474" lengthAdjust="spacingAndGlyphs">SOUTH KOREA</text>
<text class="lb" x="722" y="912" font-size="63" textLength="365" lengthAdjust="spacingAndGlyphs">AUSTRALIA</text>
<text class="lb" x="1744" y="1324" font-size="63" textLength="328" lengthAdjust="spacingAndGlyphs">GERMANY</text>
<text class="lb" x="1523" y="1541" font-size="61" textLength="263" lengthAdjust="spacingAndGlyphs">CANADA</text>
<text class="lb" x="1152" y="1727" font-size="60" textLength="250" lengthAdjust="spacingAndGlyphs">FRANCE</text>
<text class="lb" x="528" y="1403" font-size="60" textLength="248" lengthAdjust="spacingAndGlyphs">TURKEY</text>
<text class="lb" x="493" y="1062" font-size="51" textLength="283" lengthAdjust="spacingAndGlyphs">SCOTLAND</text>
<text class="lb" x="646" y="585" font-size="46" textLength="203" lengthAdjust="spacingAndGlyphs">FINLAND</text>
<text class="lb" x="1078" y="553" font-size="47" textLength="280" lengthAdjust="spacingAndGlyphs">SINGAPORE</text>
<text class="lb" x="812" y="670" font-size="47" textLength="353" lengthAdjust="spacingAndGlyphs">SOUTH AFRICA</text>
<text class="lb" x="833" y="1095" font-size="47" textLength="215" lengthAdjust="spacingAndGlyphs">BELGIUM</text>
<text class="lb" x="351" y="1249" font-size="49" textLength="197" lengthAdjust="spacingAndGlyphs">TAIWAN</text>
<text class="lb" x="685" y="1234" font-size="50" textLength="212" lengthAdjust="spacingAndGlyphs">POLAND</text>
<text class="lb" x="328" y="1627" font-size="51" textLength="286" lengthAdjust="spacingAndGlyphs">PORTUGAL</text>
<text class="lb" x="1907" y="1102" font-size="47" textLength="238" lengthAdjust="spacingAndGlyphs">DENMARK</text>
<text class="lb" x="1929" y="1201" font-size="39" textLength="165" lengthAdjust="spacingAndGlyphs">GREECE</text>
<text class="lb" x="1557" y="1241" font-size="45" textLength="166" lengthAdjust="spacingAndGlyphs">BRAZIL</text>
<text class="lb" x="1496" y="1379" font-size="47" textLength="208" lengthAdjust="spacingAndGlyphs">IRELAND</text>
<text class="lb" x="1836" y="1488" font-size="47" textLength="205" lengthAdjust="spacingAndGlyphs">SWEDEN</text>
<text class="lb" x="1548" y="1747" font-size="47" textLength="172" lengthAdjust="spacingAndGlyphs">ISRAEL</text>
<text class="lb" x="2034" y="897" font-size="47" textLength="160" lengthAdjust="spacingAndGlyphs">JAPAN</text>
<text class="lb" x="2110" y="751" font-size="46" textLength="138" lengthAdjust="spacingAndGlyphs">CHILE</text>
<text class="lb" x="984" y="1959" font-size="39" textLength="342" lengthAdjust="spacingAndGlyphs">CZECH REPUBLIC</text>
<text class="lb" x="933" y="2082" font-size="46" textLength="336" lengthAdjust="spacingAndGlyphs">SWITZERLAND</text>
</g>

<g id="legend">
<rect x="2116" y="1588" width="190" height="59.2" fill="#ff0000"/>
<rect x="2116" y="1647" width="190" height="59.2" fill="#ff8000"/>
<rect x="2116" y="1706" width="190" height="59.2" fill="#ffff00"/>
<rect x="2116" y="1765" width="190" height="59.2" fill="#00ff00"/>
<rect x="2116" y="1824" width="190" height="59.2" fill="#00f000"/>
<rect x="2116" y="1884" width="190" height="59.2" fill="#00ff80"/>
<rect x="2116" y="1943" width="190" height="59.2" fill="#00ffff"/>
<rect x="2116" y="2002" width="190" height="59.2" fill="#0080ff"/>
<rect x="2116" y="2061" width="190" height="59.2" fill="#0000ff"/>
<rect x="2116" y="2120" width="190" height="59.2" fill="#8000ff"/>
<rect x="2116" y="2179" width="190" height="59.2" fill="#e8e8e8"/>
<text class="lg" x="2211" y="1628">2022</text>
<text class="lg" x="2211" y="1687">2021</text>
<text class="lg" x="2211" y="1746">2020</text>
<text class="lg" x="2211" y="1805">2019</text>
<text class="lg" x="2211" y="1864">2018</text>
<text class="lg" x="2211" y="1924">2017</text>
<text class="lg" x="2211" y="1983">2016</text>
<text class="lg" x="2211" y="2042">2015</text>
<text class="lg" x="2211" y="2101">2014</text>
<text class="lg" x="2211" y="2160">2013</text>
<text class="lg" x="2211" y="2219">2012</text>
</g>
</svg>
